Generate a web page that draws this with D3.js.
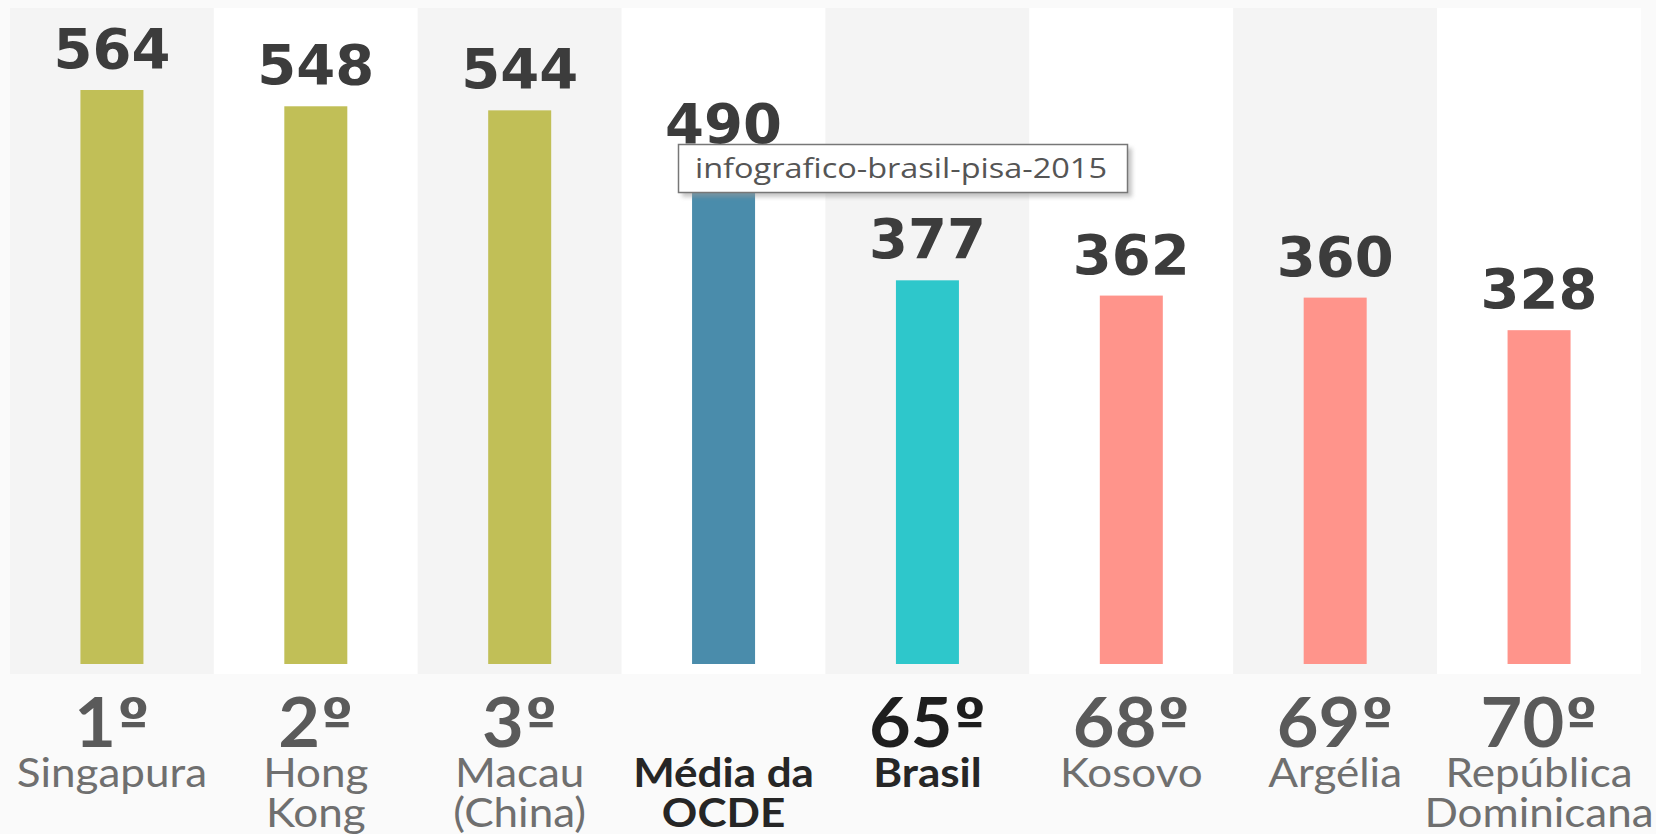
<!DOCTYPE html>
<html>
<head>
<meta charset="utf-8">
<script src="https://cdn.jsdelivr.net/npm/d3@7"></script>
<style>
  html, body { margin: 0; padding: 0; background: #fafafa; }
  svg { display: block; }
</style>
</head>
<body>
<svg id="chart" width="1656" height="834"></svg>
<script>
// ---- data ----
const categories = ["Singapura", "Hong Kong", "Macau (China)", "Média da OCDE", "Brasil", "Kosovo", "Argélia", "República Dominicana"];
const values = [564, 548, 544, 490, 377, 362, 360, 328];
const ranks = ["1", "2", "3", "", "65", "68", "69", "70"];
const ordinal = "º";
const nameLines = [["Singapura"], ["Hong", "Kong"], ["Macau", "(China)"], ["Média da", "OCDE"], ["Brasil"], ["Kosovo"], ["Argélia"], ["República", "Dominicana"]];
const groups = ["top", "top", "top", "ocde", "brasil", "bottom", "bottom", "bottom"];
const tooltipText = "infografico-brasil-pisa-2015";

// ---- styles ----
const groupColor = { top: "#c1bf57", ocde: "#4a8cab", brasil: "#2ec7cb", bottom: "#ff948b" };
const data = categories.map((c, i) => ({ c, v: values[i], r: ranks[i], lines: nameLines[i], g: groups[i], i }));

const svg = d3.select("#chart");
const x = d3.scaleBand().domain(categories).range([10, 1641]).padding(0);
const y = d3.scaleLinear().domain([0, 564]).range([664, 90]);
const barW = 63;
const cx = d => x(d.c) + x.bandwidth() / 2;

// background panels
svg.append("g").selectAll("rect").data(data).join("rect")
  .attr("x", d => x(d.c)).attr("y", 8)
  .attr("width", x.bandwidth()).attr("height", 666)
  .attr("fill", d => d.i % 2 === 0 ? "#f4f4f4" : "#ffffff");

// bars
svg.append("g").selectAll("rect").data(data).join("rect")
  .attr("x", d => cx(d) - barW / 2)
  .attr("y", d => y(d.v))
  .attr("width", barW)
  .attr("height", d => y(0) - y(d.v))
  .attr("fill", d => groupColor[d.g]);

// value labels
svg.append("g").selectAll("text").data(data).join("text")
  .attr("x", cx)
  .attr("y", d => y(d.v) - 22)
  .attr("text-anchor", "middle")
  .attr("font-family", "DejaVu Sans, sans-serif")
  .attr("font-weight", 700)
  .attr("font-size", 56)
  .attr("fill", "#3c3c3c")
  .text(d => d.v);

function stretch(sel, k) {
  sel.attr("transform", function () {
    const px = +this.getAttribute("x");
    return `translate(${px},0) scale(${k},1) translate(${-px},0)`;
  });
}

// rank labels
const rk = svg.append("g").selectAll("text").data(data.filter(d => d.r)).join("text")
  .attr("x", cx)
  .attr("y", 747)
  .attr("text-anchor", "middle")
  .attr("font-family", "Lato, sans-serif")
  .attr("font-weight", 700)
  .attr("font-size", 68)
  .attr("fill", d => d.g === "brasil" ? "#1e1e1e" : "#5a5a5a");
rk.append("tspan").text(d => d.r);
rk.append("tspan")
  .attr("font-family", "DejaVu Sans, sans-serif")
  .attr("font-size", 54)
  .attr("dx", 1)
  .attr("dy", -10)
  .text(ordinal);
stretch(rk, 1.06);

// names
const nameG = svg.append("g");
data.forEach(d => {
  d.lines.forEach((ln, j) => {
    const bold = d.g === "brasil" || d.g === "ocde";
    const t = nameG.append("text")
      .attr("x", cx(d))
      .attr("y", 787 + j * 40)
      .attr("text-anchor", "middle")
      .attr("font-family", "Lato, sans-serif")
      .attr("font-weight", bold ? 700 : 400)
      .attr("font-size", 40)
      .attr("fill", bold ? "#262626" : "#6f6f6f")
      .text(ln);
    stretch(t, 1.1);
  });
});

// tooltip
const tip = svg.append("g");
tip.append("rect").attr("x", 682).attr("y", 148).attr("width", 450).attr("height", 49)
  .attr("fill", "#9a9a9a").attr("opacity", 0.55).style("filter", "blur(2px)");
tip.append("rect").attr("x", 678.5).attr("y", 144.5).attr("width", 449).attr("height", 48)
  .attr("fill", "#ffffff").attr("stroke", "#777777").attr("stroke-width", 1.5);
tip.append("text").attr("x", 695).attr("y", 178)
  .attr("font-family", "Open Sans, sans-serif").attr("font-size", 27)
  .attr("fill", "#555555")
  .attr("textLength", 412).attr("lengthAdjust", "spacingAndGlyphs")
  .text(tooltipText);
</script>
</body>
</html>
